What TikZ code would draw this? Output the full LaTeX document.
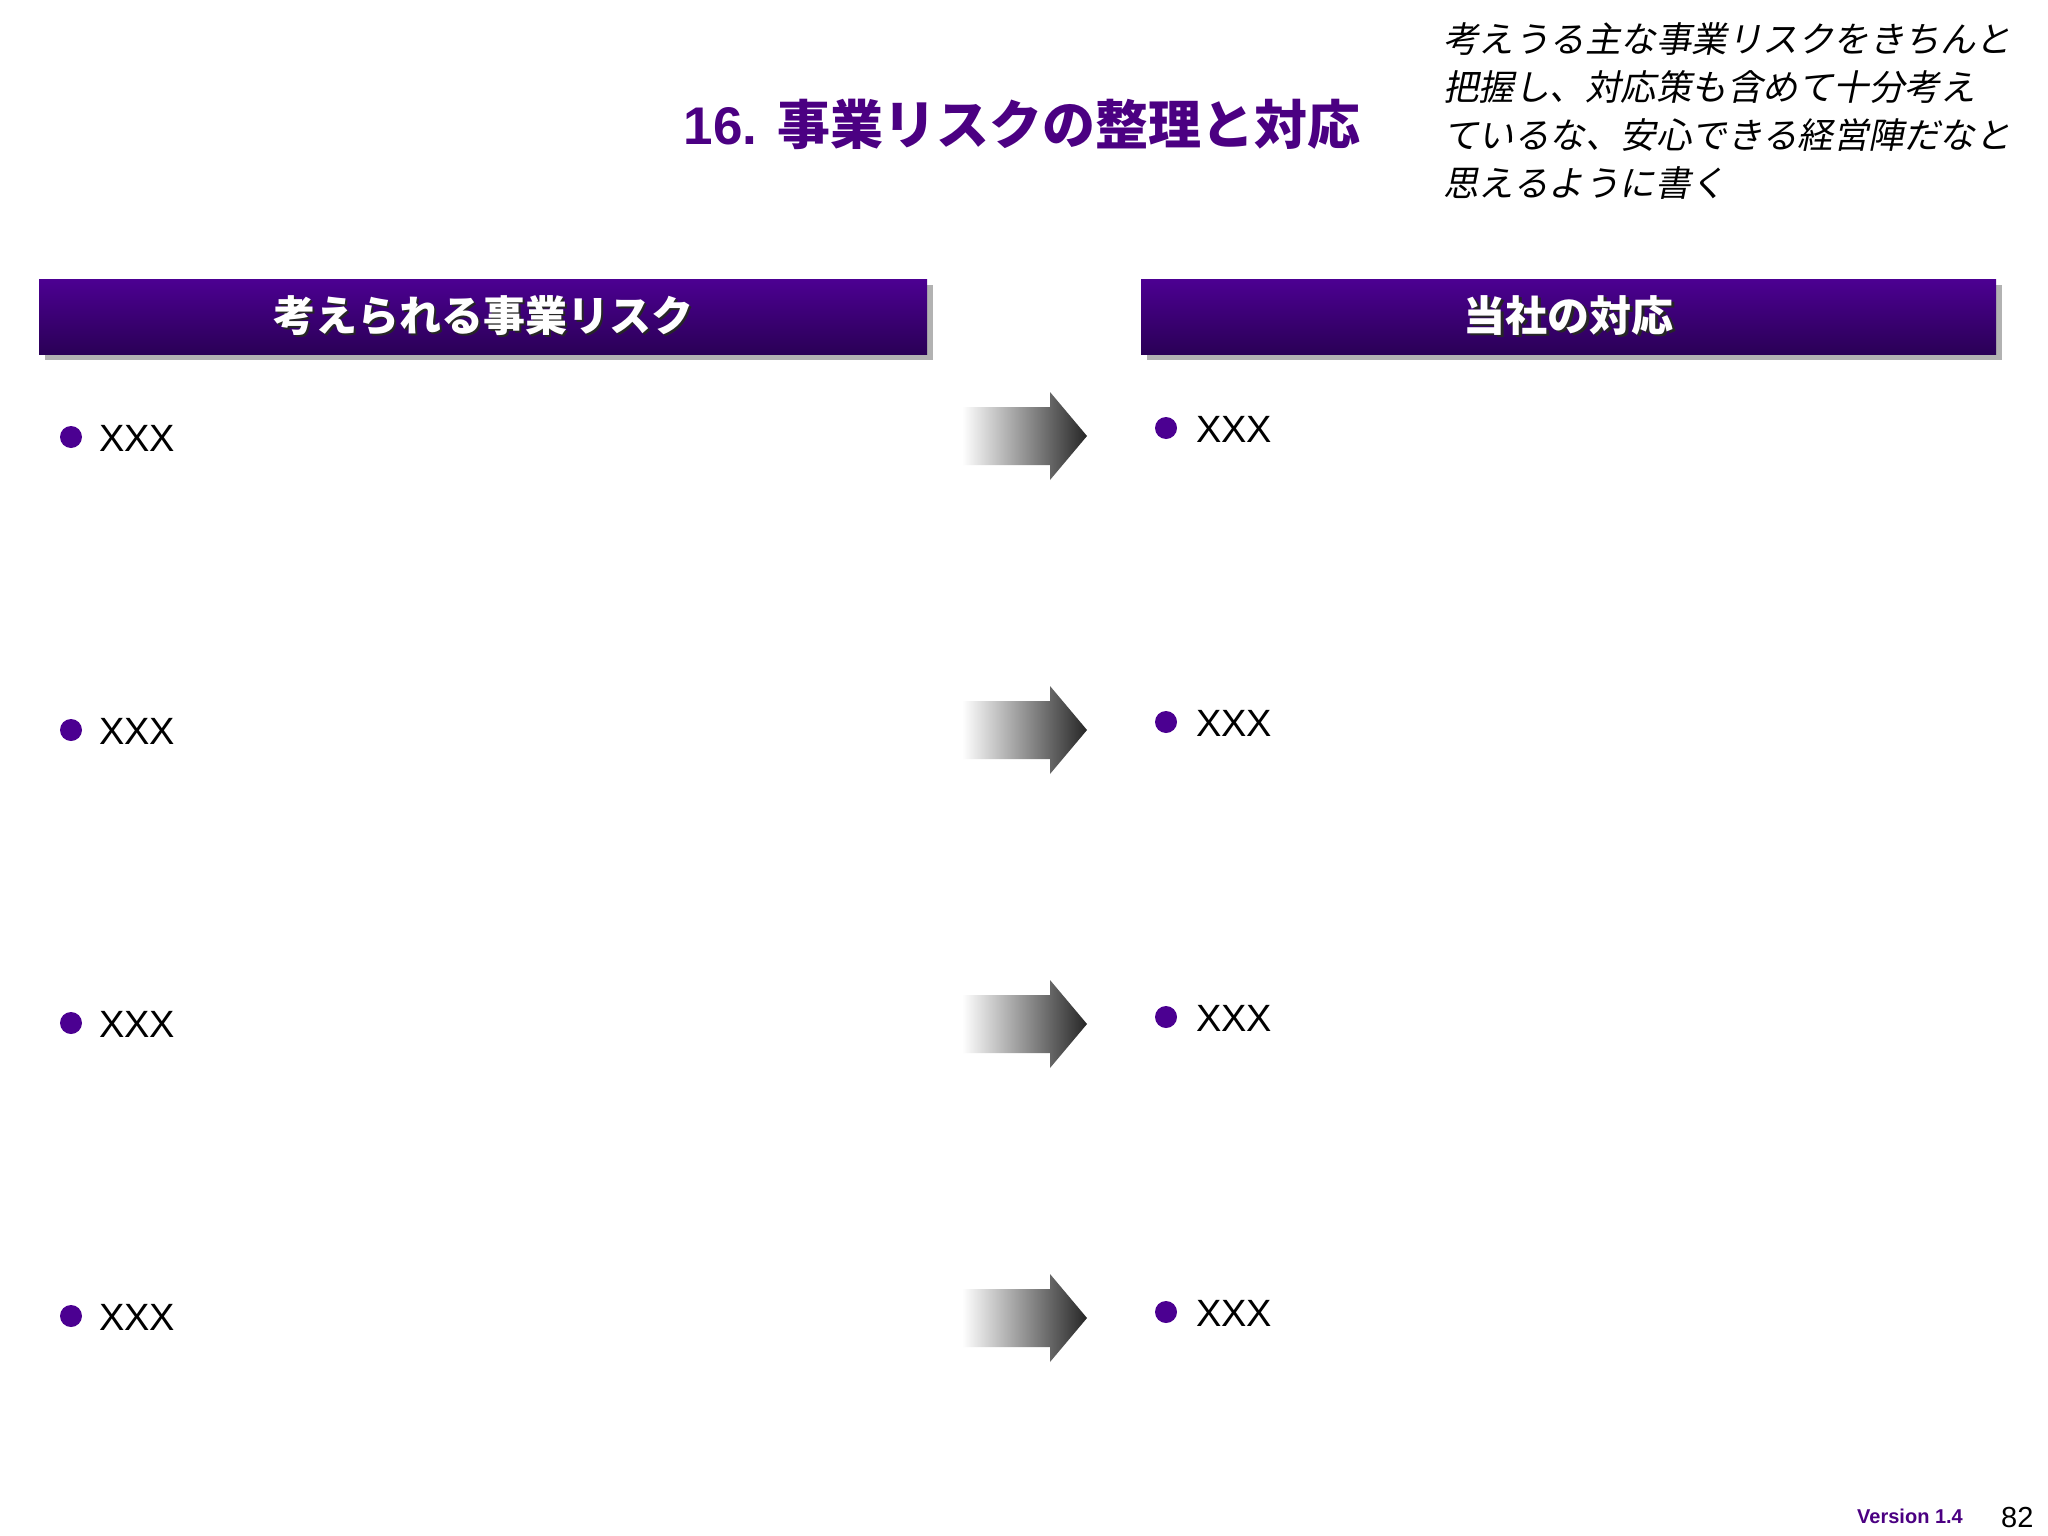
\documentclass[tikz,border=0pt]{standalone}
\usepackage{fontspec}
\setmainfont{Liberation Sans}
\newfontfamily\jp{Noto Sans CJK JP}
\newfontfamily\jpit[FakeSlant=0.2]{Noto Sans CJK JP}
\usetikzlibrary{shadows}
\definecolor{ttl}{RGB}{75,0,130}
\definecolor{hdA}{RGB}{76,0,146}
\definecolor{hdB}{RGB}{42,0,86}
\definecolor{bulc}{RGB}{75,0,145}
\newcommand{\shtext}[1]{\rlap{\raisebox{-2.5pt}{\kern2.5pt\color{black!85}#1}}#1}
\tikzset{
  hdr/.style={rectangle, minimum width=888pt, minimum height=75pt, inner sep=0pt,
    top color=hdA, bottom color=hdB, draw=none,
    drop shadow={shadow xshift=6pt, shadow yshift=-6pt, fill=black!30, opacity=1},
    text=white, font=\jp\bfseries\fontsize{42}{46}\selectfont},
  bulnode/.style={circle, fill=bulc, minimum size=22pt, inner sep=0pt},
  xxx/.style={anchor=base west, inner sep=0pt, font=\fontsize{38}{42}\selectfont},
  arrowshade/.style={left color=white, right color=black!85, draw=none}
}
\begin{document}
\begin{tikzpicture}[x=1pt,y=-1pt]
\useasboundingbox[fill=white] (0,0) rectangle (2048,1536);
% title
\node[text=ttl, font=\bfseries\fontsize{53}{58}\selectfont, inner sep=0pt] (title) at (1022,124) {16. {\jp\bfseries 事業リスクの整理と対応}};
% note
\node[anchor=north west, align=left, inner sep=0pt, font=\jpit\fontsize{35.5}{48.3}\selectfont] (note) at (1443,22)
 {考えうる主な事業リスクをきちんと\\把握し、対応策も含めて十分考え\\ているな、安心できる経営陣だなと\\思えるように書く};
% headers
\node[hdr, minimum width=888pt] (hleft) at (483,316.5) {\shtext{考えられる事業リスク}};
\node[hdr, minimum width=855pt] (hright) at (1568.5,316.5) {\shtext{当社の対応}};
% rows
\foreach \i/\yl/\yr/\ya in {1/437/428/436, 2/730/722/730, 3/1023/1017/1024, 4/1316/1312/1318}{
  \node[bulnode] (lb\i) at (71,\yl) {};
  \node[xxx] (lt\i) at (99,\yl+14) {XXX};
  \node[bulnode] (rb\i) at (1166,\yr) {};
  \node[xxx] (rt\i) at (1196,\yr+14) {XXX};
  \shade[arrowshade] (962,\ya-29) -- (1050,\ya-29) -- (1050,\ya-44) -- (1087,\ya) -- (1050,\ya+44) -- (1050,\ya+29) -- (962,\ya+29) -- cycle;
}
% footer
\node[anchor=base west, inner sep=0pt, text=ttl, font=\bfseries\fontsize{20}{22}\selectfont] (ver) at (1857,1523) {Version 1.4};
\node[anchor=base west, inner sep=0pt, font=\fontsize{29}{32}\selectfont] (page) at (2001,1527) {82};
\end{tikzpicture}
\end{document}
